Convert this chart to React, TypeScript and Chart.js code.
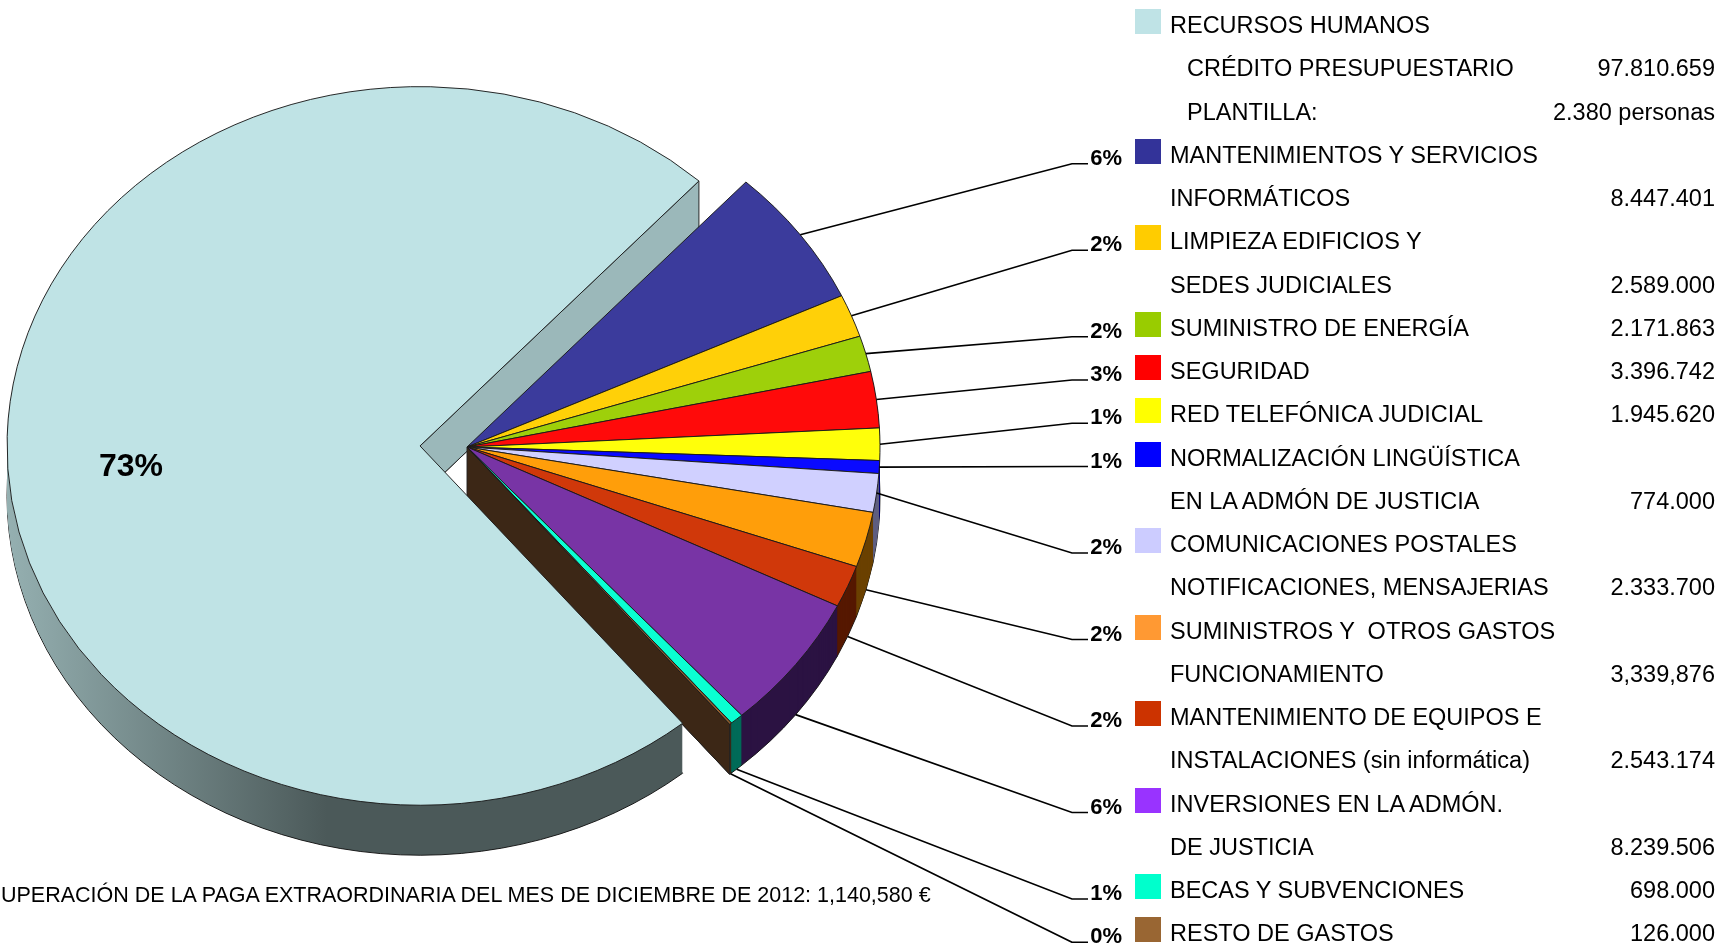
import React, { useEffect, useRef } from "react";
import { Chart, registerables } from "chart.js";

Chart.register(...registerables);

// ---------------- DATA ----------------
const CATEGORIES = [
  "RECURSOS HUMANOS",
  "MANTENIMIENTOS Y SERVICIOS INFORMÁTICOS",
  "LIMPIEZA EDIFICIOS Y SEDES JUDICIALES",
  "SUMINISTRO DE ENERGÍA",
  "SEGURIDAD",
  "RED TELEFÓNICA JUDICIAL",
  "NORMALIZACIÓN LINGÜÍSTICA EN LA ADMÓN DE JUSTICIA",
  "COMUNICACIONES POSTALES NOTIFICACIONES, MENSAJERIAS",
  "SUMINISTROS Y OTROS GASTOS FUNCIONAMIENTO",
  "MANTENIMIENTO DE EQUIPOS E INSTALACIONES (sin informática)",
  "INVERSIONES EN LA ADMÓN. DE JUSTICIA",
  "BECAS Y SUBVENCIONES",
  "RESTO DE GASTOS",
];

const LEGEND_LINES: string[][] = [
  ["RECURSOS HUMANOS"],
  ["MANTENIMIENTOS Y SERVICIOS", "INFORMÁTICOS"],
  ["LIMPIEZA EDIFICIOS Y", "SEDES JUDICIALES"],
  ["SUMINISTRO DE ENERGÍA"],
  ["SEGURIDAD"],
  ["RED TELEFÓNICA JUDICIAL"],
  ["NORMALIZACIÓN LINGÜÍSTICA", "EN LA ADMÓN DE JUSTICIA"],
  ["COMUNICACIONES POSTALES", "NOTIFICACIONES, MENSAJERIAS"],
  ["SUMINISTROS Y  OTROS GASTOS", "FUNCIONAMIENTO"],
  ["MANTENIMIENTO DE EQUIPOS E", "INSTALACIONES (sin informática)"],
  ["INVERSIONES EN LA ADMÓN.", "DE JUSTICIA"],
  ["BECAS Y SUBVENCIONES"],
  ["RESTO DE GASTOS"],
];

const VALUES = [
  97810659, 8447401, 2589000, 2171863, 3396742, 1945620, 774000, 2333700,
  3339876, 2543174, 8239506, 698000, 126000,
];

const VALUE_LABELS = [
  "97.810.659", "8.447.401", "2.589.000", "2.171.863", "3.396.742", "1.945.620",
  "774.000", "2.333.700", "3,339,876", "2.543.174", "8.239.506", "698.000", "126.000",
];

const RH_DETAIL_LABELS = ["CRÉDITO PRESUPUESTARIO", "PLANTILLA:"];
const RH_DETAIL_VALUES = ["97.810.659", "2.380 personas"];

const FOOTNOTE =
  "UPERACIÓN DE LA PAGA EXTRAORDINARIA DEL MES DE DICIEMBRE DE 2012: 1,140,580 €";

// ---------------- STYLE ----------------
const FACE = [
  "#BFE3E5", "#3B3B9C", "#FFD008", "#9ED00A", "#FF0A0A", "#FFFF0A", "#0A0AFF",
  "#D0D0FF", "#FF9E0A", "#D0380A", "#7834A5", "#0AFFD2", "#8F5E2E",
];
const WALL = [
  "#6F8586", "#1F1F55", "#7A6200", "#4A6400", "#7A0000", "#7A7A00", "#00007A",
  "#5F5F80", "#6B4000", "#561800", "#2B1242", "#006B58", "#3C2716",
];
const SWATCH = [
  "#BFE3E6", "#333399", "#FFCC00", "#99CC00", "#FF0000", "#FFFF00", "#0000FF",
  "#CCCCFF", "#FF9933", "#CC3300", "#9933FF", "#00FFCC", "#996633",
];
const RH_SIDE = "#9BB8BA";
const EXPLODE = [47, 0, 0, 0, 0, 0, 0, 0, 0, 0, 0, 0, 0];

const W = 1721;
const H = 943;
const CX = 467;
const CY = 447;
const RADIUS = 413;
const TILT = 0.87;
const DEPTH = 50;
const ROTATION_SHIFT = 1.5;
const ROW0 = 25;
const ROW_STEP = 43.25;
const FONT = "'Liberation Sans', Arial, Helvetica, sans-serif";

// legend rows
type Row = { text: string; value?: string; swatch?: string; indent?: number };
const ROWS: Row[] = [];
const FIRST_ROW: number[] = [];
LEGEND_LINES.forEach((lines, i) => {
  FIRST_ROW[i] = ROWS.length;
  lines.forEach((t, j) => {
    ROWS.push({
      text: t,
      swatch: j === 0 ? SWATCH[i] : undefined,
      value: i !== 0 && j === lines.length - 1 ? VALUE_LABELS[i] : undefined,
    });
  });
  if (i === 0) {
    RH_DETAIL_LABELS.forEach((t, k) =>
      ROWS.push({ text: t, value: RH_DETAIL_VALUES[k], indent: 17 })
    );
  }
});

const TOTAL = VALUES.reduce((a, b) => a + b, 0);

const pie3d = {
  id: "pie3d",
  beforeDatasetsDraw(chart: any) {
    const ctx: CanvasRenderingContext2D = chart.ctx;
    const arcs: any[] = chart.getDatasetMeta(0).data;
    if (!arcs.length) return false;
    const cx = arcs[0].x;
    const cy = arcs[0].y;
    const shift = (i: number) => {
      const a = arcs[i];
      const mid = (a.startAngle + a.endAngle) / 2;
      return [Math.cos(mid) * EXPLODE[i], Math.sin(mid) * EXPLODE[i]];
    };
    const tf = (i: number, dy: number) => {
      ctx.translate(0, dy);
      ctx.translate(cx, cy);
      ctx.scale(1, TILT);
      ctx.translate(-cx, -cy);
      const [ex, ey] = shift(i);
      ctx.translate(ex, ey);
    };
    const wedge = (a: any) => {
      ctx.beginPath();
      ctx.moveTo(a.x, a.y);
      ctx.arc(a.x, a.y, a.outerRadius, a.startAngle, a.endAngle);
      ctx.closePath();
    };
    const toScreen = (i: number, px: number, py: number) => {
      const [ex, ey] = shift(i);
      return [px + ex, cy + (py + ey - cy) * TILT];
    };

    const grad = ctx.createLinearGradient(cx - RADIUS, 0, cx - RADIUS + 320, 0);
    grad.addColorStop(0, "#95B0B1");
    grad.addColorStop(1, "#4B5959");

    // extruded walls
    for (let d = DEPTH; d >= 1; d--) {
      arcs.forEach((a, i) => {
        ctx.save();
        tf(i, d);
        wedge(a);
        ctx.fillStyle = i === 0 ? grad : WALL[i];
        ctx.fill();
        if (d === DEPTH) {
          ctx.lineWidth = 1;
          ctx.strokeStyle = "#111";
          ctx.stroke();
        }
        ctx.restore();
      });
    }

    // radial walls exposed by the exploded slice
    const n = arcs.length;
    arcs.forEach((a, i) => {
      const edges: [number, number, boolean][] = [
        [a.startAngle, (i - 1 + n) % n, false],
        [a.endAngle, (i + 1) % n, true],
      ];
      edges.forEach(([ang, nb, isEnd]) => {
        if (!(EXPLODE[i] > 0 || EXPLODE[nb] > 0)) return;
        const visible = isEnd ? Math.cos(ang) > 0 : Math.cos(ang) < 0;
        if (!visible) return;
        ctx.save();
        tf(i, 0);
        const ox = a.x + Math.cos(ang) * a.outerRadius;
        const oy = a.y + Math.sin(ang) * a.outerRadius;
        const dd = DEPTH / TILT;
        ctx.beginPath();
        ctx.moveTo(a.x, a.y);
        ctx.lineTo(ox, oy);
        ctx.lineTo(ox, oy + dd);
        ctx.lineTo(a.x, a.y + dd);
        ctx.closePath();
        ctx.fillStyle = i === 0 ? RH_SIDE : WALL[i];
        ctx.fill();
        ctx.lineWidth = 1;
        ctx.strokeStyle = "#222";
        ctx.stroke();
        ctx.restore();
      });
    });

    // top faces
    arcs.forEach((a, i) => {
      ctx.save();
      tf(i, 0);
      a.draw(ctx);
      ctx.restore();
    });

    // RH label inside
    {
      const a = arcs[0];
      const mid = (a.startAngle + a.endAngle) / 2;
      const [sx, sy] = toScreen(
        0,
        a.x + Math.cos(mid) * a.outerRadius * 0.7,
        a.y + Math.sin(mid) * a.outerRadius * 0.7
      );
      ctx.save();
      ctx.fillStyle = "#000";
      ctx.font = `bold 32px ${FONT}`;
      ctx.textAlign = "center";
      ctx.textBaseline = "middle";
      ctx.fillText(`${Math.round((VALUES[0] / TOTAL) * 100)}%`, sx, sy + 28);
      ctx.restore();
    }

    // leader lines + percentage labels
    arcs.forEach((a, i) => {
      if (i === 0) return;
      const mid = (a.startAngle + a.endAngle) / 2;
      let [sx, sy] = toScreen(
        i,
        a.x + Math.cos(mid) * a.outerRadius,
        a.y + Math.sin(mid) * a.outerRadius
      );
      if (Math.sin(mid) > 0.17) sy += DEPTH;
      const ry = ROW0 + FIRST_ROW[i] * ROW_STEP;
      const ly = ry + 9;
      ctx.save();
      ctx.strokeStyle = "#000";
      ctx.lineWidth = 1.7;
      ctx.beginPath();
      ctx.moveTo(sx, sy);
      ctx.lineTo(1072, ly);
      ctx.lineTo(1088, ly);
      ctx.stroke();
      ctx.fillStyle = "#000";
      ctx.font = `bold 22px ${FONT}`;
      ctx.textAlign = "right";
      ctx.textBaseline = "alphabetic";
      ctx.fillText(`${Math.round((VALUES[i] / TOTAL) * 100)}%`, 1122, ry + 10);
      ctx.restore();
    });

    return false;
  },
};

export default function App() {
  const ref = useRef<HTMLCanvasElement>(null);
  useEffect(() => {
    if (!ref.current) return;
    const chart = new Chart(ref.current, {
      type: "pie",
      data: {
        labels: CATEGORIES,
        datasets: [
          {
            data: VALUES,
            backgroundColor: FACE,
            borderColor: "#1a1a1a",
            borderWidth: 1,
          },
        ],
      },
      options: {
        responsive: false,
        animation: false,
        devicePixelRatio: 1,
        rotation: 270 - (VALUES[0] / TOTAL) * 180 + ROTATION_SHIFT,
        radius: RADIUS,
        layout: {
          padding: { left: 0, top: 0, right: W - 2 * CX, bottom: H - 2 * CY },
        },
        plugins: {
          legend: { display: false },
          tooltip: { enabled: false },
        },
        events: [],
      } as any,
      plugins: [pie3d as any],
    });
    return () => chart.destroy();
  }, []);

  const textStyle: React.CSSProperties = {
    position: "absolute",
    height: 24,
    lineHeight: "24px",
    fontSize: 23.5,
    fontFamily: FONT,
    whiteSpace: "pre",
    color: "#000",
  };

  return (
    <div
      style={{
        position: "absolute",
        left: 0,
        top: 0,
        width: W,
        height: H,
        overflow: "hidden",
        background: "#fff",
      }}
    >
      <canvas
        ref={ref}
        width={W}
        height={H}
        style={{ position: "absolute", left: 0, top: 0, width: W, height: H }}
      />
      {ROWS.map((r, k) => {
        const y = ROW0 + k * ROW_STEP;
        return (
          <React.Fragment key={k}>
            {r.swatch && (
              <div
                style={{
                  position: "absolute",
                  left: 1135,
                  top: y - 16,
                  width: 26,
                  height: 25,
                  background: r.swatch,
                }}
              />
            )}
            <div style={{ ...textStyle, left: 1170 + (r.indent || 0), top: y - 12 }}>
              {r.text}
            </div>
            {r.value && (
              <div style={{ ...textStyle, right: W - 1715, top: y - 12, textAlign: "right" }}>
                {r.value}
              </div>
            )}
          </React.Fragment>
        );
      })}
      <div
        style={{
          position: "absolute",
          left: 1,
          top: 884,
          height: 22,
          lineHeight: "22px",
          fontSize: 21.5,
          fontFamily: FONT,
          whiteSpace: "pre",
          color: "#000",
        }}
      >
        {FOOTNOTE}
      </div>
    </div>
  );
}
